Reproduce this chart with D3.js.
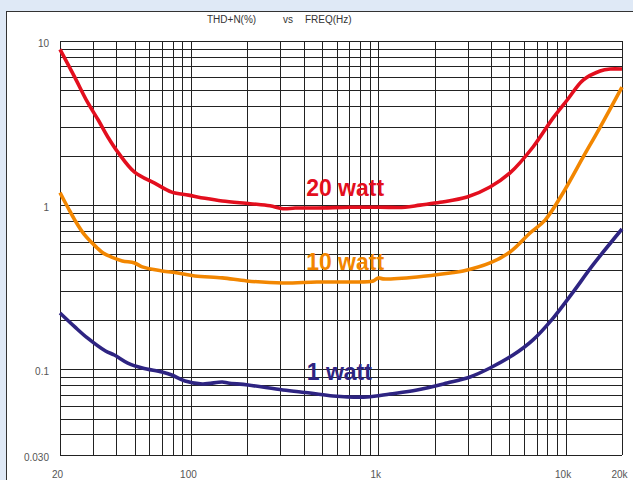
<!DOCTYPE html>
<html>
<head>
<meta charset="utf-8">
<script src="https://cdn.jsdelivr.net/npm/d3@7"></script>
<style>
html, body { margin: 0; padding: 0; background: #dfe9f6; }
svg { display: block; }
</style>
</head>
<body>
<script>
var w = 633, h = 480;

// 20 watt curve
var freq20 = [20, 24, 28, 32, 36, 41, 50, 64, 79, 97, 119, 147, 207, 264, 310, 360, 470, 710, 1020, 1390, 1670, 2140, 2980, 3950, 5050, 6700, 8580, 10200, 12400, 15300, 17300, 20000];
var thd20  = [8.9, 6.0, 4.25, 3.3, 2.6, 2.08, 1.59, 1.36, 1.2, 1.15, 1.1, 1.06, 1.02, 0.99, 0.95, 0.96, 0.96, 0.97, 0.97, 0.97, 1.0, 1.04, 1.12, 1.29, 1.57, 2.26, 3.4, 4.37, 5.78, 6.57, 6.75, 6.75];

// 10 watt curve
var freq10 = [20, 22, 24, 27, 31.5, 34, 38, 43, 50, 55, 70, 85, 105, 147, 199, 310, 470, 710, 940, 1000, 1060, 1610, 2420, 2840, 3950, 5050, 6460, 7770, 9700, 12400, 15300, 20000];
var thd10  = [1.19, 0.97, 0.81, 0.66, 0.55, 0.51, 0.48, 0.457, 0.444, 0.42, 0.397, 0.386, 0.37, 0.36, 0.345, 0.335, 0.34, 0.34, 0.345, 0.36, 0.355, 0.365, 0.386, 0.397, 0.444, 0.518, 0.676, 0.81, 1.19, 1.96, 2.99, 5.24];

// 1 watt curve
var freq1 = [20, 24, 28, 35, 39, 46, 55, 70, 79, 93, 115, 147, 158, 202, 310, 432, 574, 871, 1156, 1610, 2330, 3090, 3950, 5240, 6700, 8580, 10960, 14000, 20000];
var thd1  = [0.22, 0.181, 0.155, 0.129, 0.122, 0.109, 0.1017, 0.0961, 0.0922, 0.0848, 0.0813, 0.0836, 0.0824, 0.0801, 0.0747, 0.0716, 0.0687, 0.0677, 0.0706, 0.0747, 0.0824, 0.0897, 0.1017, 0.122, 0.151, 0.205, 0.295, 0.432, 0.715];

var seriesNames  = ['20 watt', '10 watt', '1 watt'];
var seriesColors = ['#e30f1e', '#f28600', '#2e2482'];
// label anchors, [freq, thd] of the text baseline start
var labelFreq = [412, 412, 415];
var labelThd  = [1.14, 0.402, 0.0859];

// axis ticks
var xTickValues = [20, 100, 1000, 10000, 20000];
var xTickLabels = ['20', '100', '1k', '10k', '20k'];
var yTickValues = [10, 1, 0.1, 0.03];
var yTickLabels = ['10', '1', '0.1', '0.030'];

var series = [
	{ f: freq20, v: thd20 },
	{ f: freq10, v: thd10 },
	{ f: freq1,  v: thd1 }
].map(function(s, i) {
	return {
		name: seriesNames[i],
		color: seriesColors[i],
		points: s.f.map(function(f, j) { return [f, s.v[j]]; })
	};
});

var x = d3.scaleLog().domain([20, 20000]).range([60, 622]);
var y = d3.scaleLog().domain([0.03, 10]).range([455, 41]);

var svg = d3.select('body').append('svg')
	.attr('width', w)
	.attr('height', h);

// white panel with thin border
svg.append('rect')
	.attr('x', 6.5).attr('y', 11.5)
	.attr('width', 700).attr('height', 600)
	.attr('fill', '#fff')
	.attr('stroke', '#333')
	.attr('stroke-width', 1);

// title
var title = svg.append('g')
	.attr('font-family', '"Liberation Sans Narrow", "Arial Narrow", "Liberation Sans", Arial, sans-serif')
	.attr('font-size', 10)
	.attr('fill', '#333');
title.append('text').attr('x', 207).attr('y', 23).text('THD+N(%)');
title.append('text').attr('x', 283).attr('y', 23).text('vs');
title.append('text').attr('x', 305).attr('y', 23).text('FREQ(Hz)');

// grid
var grid = svg.append('g')
	.attr('stroke', '#222')
	.attr('stroke-width', 1.5)
	.attr('shape-rendering', 'crispEdges');

grid.selectAll('.vl')
	.data(x.ticks())
	.enter().append('line')
	.attr('x1', function(d) { return Math.round(x(d)) + 0.5; })
	.attr('x2', function(d) { return Math.round(x(d)) + 0.5; })
	.attr('y1', y.range()[1])
	.attr('y2', y.range()[0]);

grid.selectAll('.hl')
	.data(y.ticks())
	.enter().append('line')
	.attr('y1', function(d) { return Math.round(y(d)) + 0.5; })
	.attr('y2', function(d) { return Math.round(y(d)) + 0.5; })
	.attr('x1', x.range()[0])
	.attr('x2', x.range()[1]);

// axes labels
var xAxis = svg.append('g')
	.attr('transform', 'translate(-3,471)')
	.call(d3.axisBottom(x).tickValues(xTickValues)
		.tickFormat(function(d, i) { return xTickLabels[i]; })
		.tickSize(0).tickPadding(0));

var yAxis = svg.append('g')
	.attr('transform', 'translate(49,2)')
	.call(d3.axisLeft(y).tickValues(yTickValues)
		.tickFormat(function(d, i) { return yTickLabels[i]; })
		.tickSize(0).tickPadding(0));

[xAxis, yAxis].forEach(function(a) {
	a.select('.domain').remove();
	a.selectAll('text')
		.attr('fill', '#555')
		.attr('font-size', 10)
		.attr('font-family', '"Liberation Sans", Arial, sans-serif');
});

// curves
var line = d3.line()
	.x(function(d) { return x(d[0]); })
	.y(function(d) { return y(d[1]); })
	.curve(d3.curveCatmullRom.alpha(0.5));

svg.selectAll('.curve')
	.data(series)
	.enter().append('path')
	.attr('fill', 'none')
	.attr('stroke', function(d) { return d.color; })
	.attr('stroke-width', 3.6)
	.attr('stroke-linejoin', 'round')
	.attr('d', function(d) { return line(d.points); });

// series labels
svg.selectAll('.lbl')
	.data(series)
	.enter().append('text')
	.attr('x', function(d, i) { return x(labelFreq[i]); })
	.attr('y', function(d, i) { return y(labelThd[i]); })
	.attr('fill', function(d) { return d.color; })
	.attr('font-family', '"Liberation Sans", Arial, sans-serif')
	.attr('font-weight', 'bold')
	.attr('font-size', 23)
	.text(function(d) { return d.name; });
</script>
</body>
</html>
